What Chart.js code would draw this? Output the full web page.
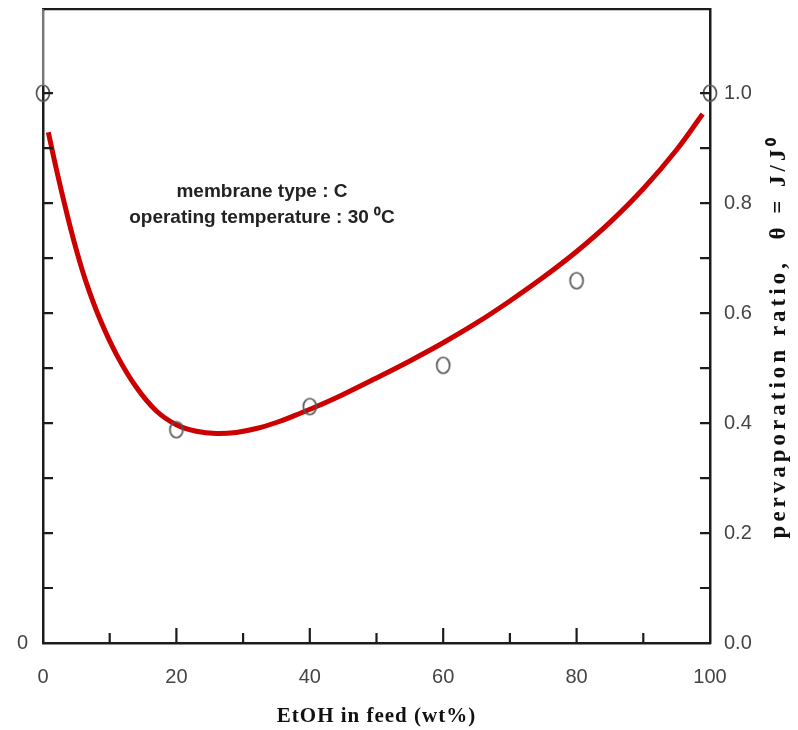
<!DOCTYPE html>
<html>
<head>
<meta charset="utf-8">
<script src="https://cdn.jsdelivr.net/npm/chart.js@4.4.1/dist/chart.umd.min.js"></script>
<style>
  html, body { margin: 0; padding: 0; background: #fff; }
  #wrap { width: 798px; height: 730px; }
</style>
</head>
<body>
<div id="wrap"><canvas id="ratioChart" width="798" height="730"></canvas></div>
<script>
// measured points (open circles)
const feedEtoh = [0, 20, 40, 60, 80, 100];
const measuredRatio = [1.0, 0.388, 0.43, 0.505, 0.659, 1.0];

// fitted curve (red line)
const fitEtoh = [0.8, 2, 3.5, 5, 6.5, 8.5, 11, 14, 17, 20, 23, 26, 29, 32, 35, 38, 41,
  45, 50, 55, 60, 65, 70, 75, 80, 85, 90, 95, 98.9];
const fitRatio = [0.929, 0.862, 0.785, 0.715, 0.655, 0.59, 0.525, 0.465, 0.422, 0.397, 0.385,
  0.381, 0.383, 0.39, 0.401, 0.415, 0.43, 0.452, 0.482, 0.513, 0.546, 0.582, 0.622, 0.665,
  0.712, 0.765, 0.826, 0.897, 0.962];

// axis ticks
const xTickLabels = [0, 20, 40, 60, 80, 100];
const yTickLabels = [0.0, 0.2, 0.4, 0.6, 0.8, 1.0];
const leftTickLabels = [0];
const xTitle = 'EtOH in feed (wt%)';
const yTitle = 'pervaporation ratio,  \u03b8 = J/J\u2070';
const noteLines = ['membrane type : C', 'operating temperature : 30 \u2070C'];

const axisColor = '#1c1c1c';
const labelColor = '#444';

// hollow ellipse marker, the source picture is slightly stretched vertically
function makeMarker() {
  const c = document.createElement('canvas');
  c.width = 18; c.height = 22;
  const g = c.getContext('2d');
  g.strokeStyle = '#555';
  g.lineWidth = 1.7;
  g.beginPath();
  g.ellipse(9, 11, 6.5, 8, 0, 0, Math.PI * 2);
  g.stroke();
  return c;
}

// drop the padding chart.js keeps for edge labels, the frame is placed by afterFit
function noPad(s) {
  s.paddingTop = 0;
  s.paddingBottom = 0;
  s.paddingLeft = 0;
  s.paddingRight = 0;
}

const extrasPlugin = {
  id: 'extras',
  afterDraw(chart) {
    const ctx = chart.ctx;
    const area = chart.chartArea;
    const x = chart.scales.x;
    const y = chart.scales.y;
    ctx.save();

    // upper part of the left axis is lighter in the source
    ctx.strokeStyle = '#fff';
    ctx.lineWidth = 3;
    ctx.beginPath();
    ctx.moveTo(area.left, area.top + 2);
    ctx.lineTo(area.left, y.getPixelForValue(1.0) - 8);
    ctx.stroke();
    ctx.strokeStyle = '#777';
    ctx.lineWidth = 2;
    ctx.beginPath();
    ctx.moveTo(area.left, area.top);
    ctx.lineTo(area.left, y.getPixelForValue(1.0) - 8);
    ctx.stroke();

    ctx.strokeStyle = axisColor;
    ctx.lineWidth = 2.2;
    ctx.beginPath();
    // inward ticks on the bottom axis
    for (let v = 10; v < 100; v += 10) {
      const px = x.getPixelForValue(v);
      const len = v % 20 === 0 ? 15 : 10;
      ctx.moveTo(px, area.bottom);
      ctx.lineTo(px, area.bottom - len);
    }
    // inward ticks on both vertical axes
    for (let i = 1; i <= 10; i++) {
      const py = y.getPixelForValue(i / 10);
      ctx.moveTo(area.right, py);
      ctx.lineTo(area.right - 10, py);
      ctx.moveTo(area.left, py);
      ctx.lineTo(area.left + 10, py);
    }
    ctx.stroke();

    // note in the plot
    ctx.fillStyle = '#222';
    ctx.textAlign = 'center';
    ctx.textBaseline = 'alphabetic';
    ctx.font = 'bold 19px "Liberation Sans", Arial, sans-serif';
    ctx.fillText(noteLines[0], 262, 197);
    ctx.fillText(noteLines[1], 262, 223);

    // x axis title
    ctx.fillStyle = '#111';
    ctx.font = 'bold 21px "Liberation Serif", "Times New Roman", serif';
    ctx.letterSpacing = '1px';
    ctx.textBaseline = 'middle';
    ctx.fillText(xTitle, (area.left + area.right) / 2, 717);

    // right axis title, reads bottom to top
    ctx.translate(779, 336);
    ctx.rotate(-Math.PI / 2);
    ctx.font = 'bold 23px "Liberation Serif", "Times New Roman", serif';
    ctx.letterSpacing = '4px';
    ctx.fillText(yTitle, 0, 0);
    ctx.restore();
  }
};

const ctx = document.getElementById('ratioChart').getContext('2d');
new Chart(ctx, {
  data: {
    datasets: [
      {
        type: 'scatter',
        label: 'measured',
        data: feedEtoh.map((v, i) => ({ x: v, y: measuredRatio[i] })),
        pointStyle: makeMarker(),
        pointRadius: 8,
        clip: false,
        order: 0
      },
      {
        type: 'line',
        label: 'fit',
        data: fitEtoh.map((v, i) => ({ x: v, y: fitRatio[i] })),
        borderColor: '#cc0000',
        borderWidth: 5,
        pointRadius: 0,
        tension: 0.4,
        fill: false,
        order: 1
      }
    ]
  },
  options: {
    responsive: false,
    animation: false,
    layout: { padding: 0 },
    plugins: {
      legend: { display: false },
      tooltip: { enabled: false }
    },
    scales: {
      x: {
        type: 'linear',
        position: 'bottom',
        min: 0,
        max: 100,
        afterBuildTicks: s => { s.ticks = xTickLabels.map(v => ({ value: v })); },
        afterFit: s => { s.height = 87; noPad(s); },
        grid: { display: false, drawTicks: false },
        border: { display: true, color: axisColor, width: 2.5 },
        ticks: {
          padding: 22,
          color: labelColor,
          maxRotation: 0,
          font: { family: '"Liberation Sans", Arial, sans-serif', size: 20 },
          callback: v => String(v)
        }
      },
      xTop: {
        type: 'linear',
        position: 'top',
        min: 0,
        max: 100,
        afterFit: s => { s.height = 4; noPad(s); },
        grid: { display: false, drawTicks: false },
        border: { display: true, color: axisColor, width: 2.2 },
        ticks: { display: false }
      },
      y: {
        type: 'linear',
        position: 'right',
        min: 0,
        max: 1.153,
        afterBuildTicks: s => { s.ticks = yTickLabels.map(v => ({ value: v })); },
        afterFit: s => { s.width = 88; noPad(s); },
        grid: { display: false, drawTicks: false },
        border: { display: true, color: axisColor, width: 2.5 },
        ticks: {
          padding: 14,
          color: labelColor,
          font: { family: '"Liberation Sans", Arial, sans-serif', size: 20 },
          callback: v => v.toFixed(1)
        }
      },
      yLeft: {
        type: 'linear',
        position: 'left',
        min: 0,
        max: 1.153,
        afterBuildTicks: s => { s.ticks = leftTickLabels.map(v => ({ value: v })); },
        afterFit: s => { s.width = 43; noPad(s); },
        grid: { display: false, drawTicks: false },
        border: { display: true, color: axisColor, width: 2.5 },
        ticks: {
          padding: 15,
          color: labelColor,
          font: { family: '"Liberation Sans", Arial, sans-serif', size: 20 },
          callback: v => String(v)
        }
      }
    }
  },
  plugins: [extrasPlugin]
});
</script>
</body>
</html>
